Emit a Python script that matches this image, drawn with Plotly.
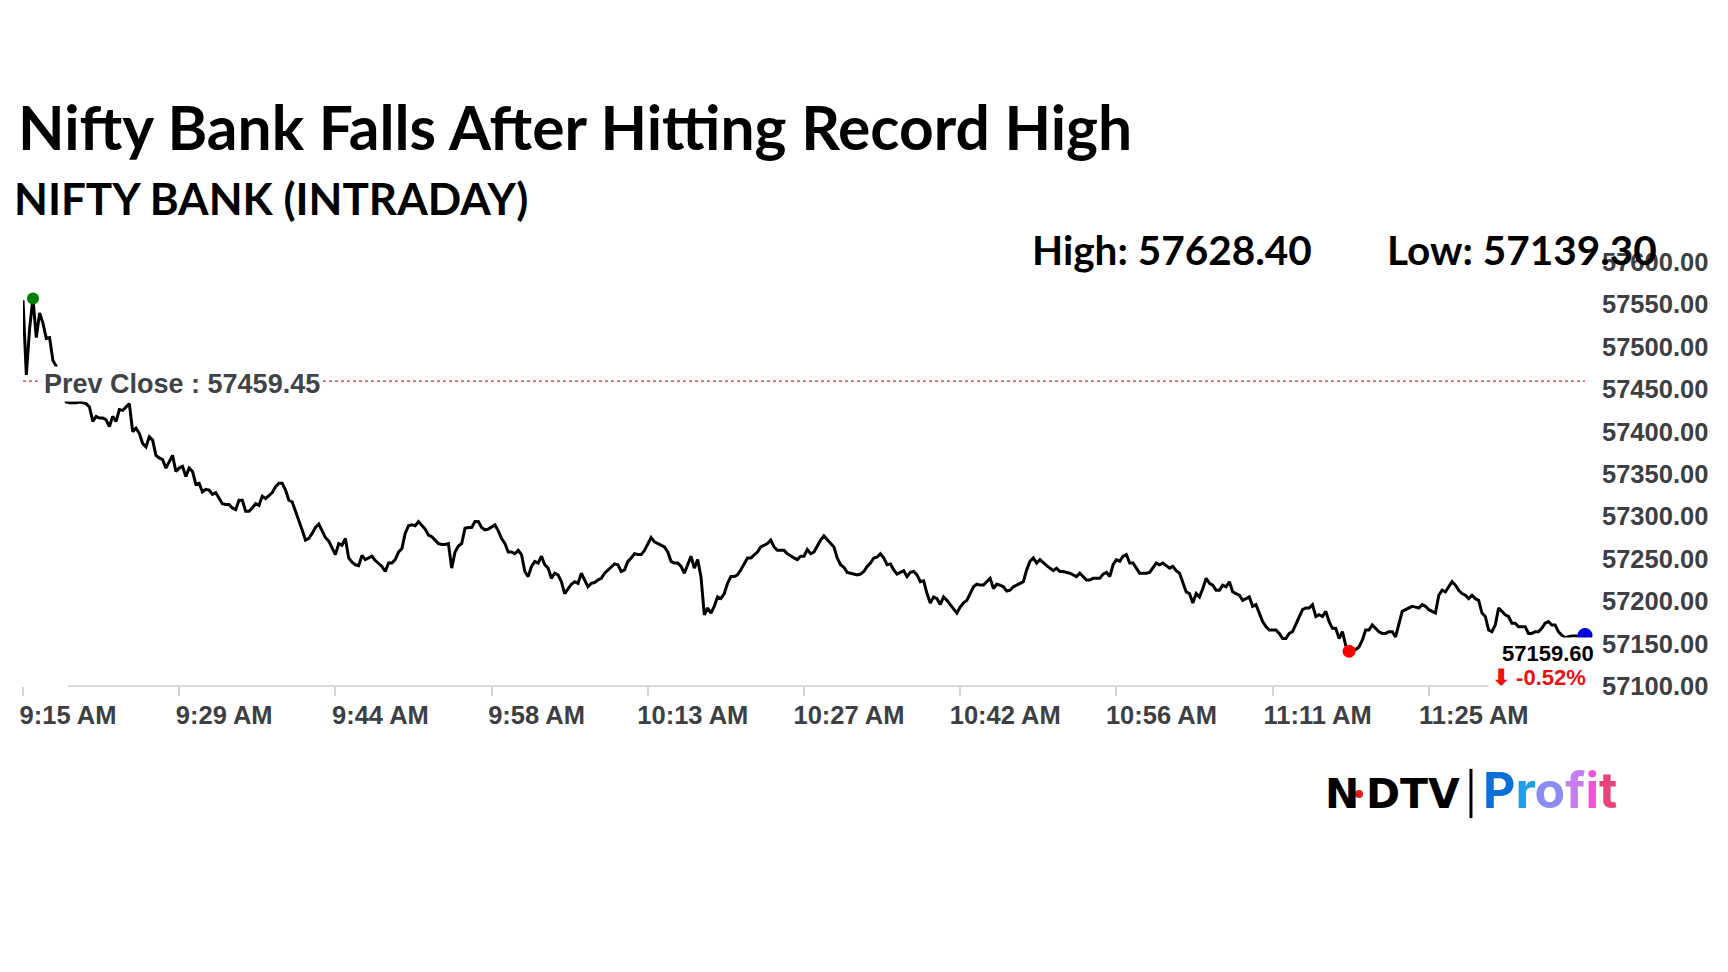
import numpy as np
import pandas as pd
import plotly.graph_objects as go

# ---------------- data ----------------
TITLE = "Nifty Bank Falls After Hitting Record High"
SUBTITLE = "NIFTY BANK (INTRADAY)"
HIGH_TEXT = "High: 57628.40"
LOW_TEXT = "Low: 57139.30"
PREV_CLOSE = 57459.45
LAST_PRICE = 57159.60
CHANGE_PCT = -0.52

START_TIME = "2025-07-01 09:15:00"
SAMPLE_STEP = "18450ms"          # sampling interval of the intraday series

PRICES_0915 = [
    57555, 57467, 57522, 57557, 57511, 57540, 57528, 57510, 57511, 57484,
    57477, 57463, 57449, 57435, 57434, 57434, 57434, 57435, 57434, 57433,
    57429, 57412, 57418, 57416, 57416, 57414, 57406, 57418, 57412, 57426,
    57425, 57429, 57433, 57400, 57404, 57398, 57386, 57382, 57394, 57390,
    57372, 57369, 57367, 57357, 57365, 57372, 57353, 57357, 57359, 57347,
    57357, 57353, 57338, 57339, 57329, 57332, 57331, 57326, 57328, 57321,
    57315, 57314, 57314, 57310, 57308, 57319, 57319, 57306, 57306, 57310,
    57315, 57313, 57324, 57321, 57325, 57328, 57335, 57339, 57339, 57331,
    57319, 57317, 57306, 57296, 57284,
]
PRICES_0941 = [
    57272, 57274, 57280, 57287, 57291, 57282, 57275, 57271, 57262, 57255,
    57268, 57266, 57274, 57251, 57246, 57243, 57242, 57254, 57249, 57251,
    57253, 57248, 57245, 57241, 57235, 57245, 57245, 57249, 57258, 57262,
    57280, 57289, 57290, 57289, 57294, 57290, 57285, 57278, 57276, 57272,
    57268, 57267, 57267, 57268, 57239, 57258, 57265, 57268, 57286, 57287,
    57287, 57294, 57294, 57287, 57284, 57285, 57288, 57290, 57283, 57274,
    57268, 57258, 57258, 57256, 57260, 57255, 57235, 57229, 57241, 57247,
    57245, 57253, 57243, 57239, 57227, 57233, 57231, 57223, 57209, 57215,
    57220, 57223, 57221, 57233,
]
PRICES_1007 = [
    57225, 57217, 57221, 57222, 57225, 57227, 57233, 57237, 57241, 57244,
    57243, 57235, 57237, 57247, 57251, 57256, 57255, 57255, 57260, 57268,
    57275, 57270, 57268, 57266, 57264, 57258, 57247, 57245, 57245, 57241,
    57233, 57243, 57253, 57239, 57249, 57229, 57184, 57192, 57186, 57194,
    57205, 57203, 57209, 57221, 57229, 57229, 57231, 57237, 57245, 57251,
    57251, 57255, 57258, 57264, 57266, 57268, 57272, 57264, 57260, 57260,
    57260, 57256, 57253, 57251, 57249, 57253, 57253, 57261, 57256, 57258,
    57265, 57272, 57277, 57273, 57268, 57264, 57251, 57243, 57240, 57234,
    57233, 57232, 57231, 57232,
]
PRICES_1033 = [
    57235, 57241, 57245, 57251, 57252, 57256, 57251, 57243, 57244, 57237,
    57232, 57234, 57236, 57229, 57234, 57235, 57231, 57223, 57224, 57209,
    57198, 57205, 57203, 57196, 57205, 57201, 57196, 57192, 57186, 57193,
    57198, 57201, 57209, 57217, 57220, 57219, 57219, 57223, 57227, 57215,
    57220, 57219, 57217, 57212, 57213, 57217, 57219, 57221, 57223, 57237,
    57247, 57251, 57245, 57249, 57245, 57242, 57239, 57236, 57239, 57235,
    57235, 57234, 57233, 57231, 57229, 57233, 57229, 57225, 57225, 57227,
    57227, 57227, 57232, 57234, 57229, 57243, 57249, 57247, 57253, 57255,
    57245, 57245, 57239, 57233,
]
PRICES_1059 = [
    57233, 57233, 57234, 57239, 57245, 57243, 57245, 57242, 57239, 57241,
    57236, 57233, 57223, 57211, 57209, 57198, 57209, 57205, 57215, 57227,
    57221, 57219, 57213, 57213, 57219, 57217, 57223, 57211, 57209, 57207,
    57201, 57203, 57205, 57194, 57196, 57186, 57176, 57170, 57166, 57166,
    57166, 57162, 57156, 57156, 57162, 57164, 57172, 57180, 57190, 57192,
    57192, 57196, 57182, 57184, 57182, 57188, 57176, 57168, 57168, 57156,
    57164, 57148, 57141, 57144, 57143, 57146, 57154, 57166, 57166, 57172,
    57168, 57164, 57162, 57162, 57164, 57164, 57158, 57174, 57188, 57190,
    57192, 57194, 57193, 57192,
]
PRICES_1124 = [
    57196, 57194, 57190, 57188, 57186, 57207, 57213, 57211, 57217, 57223,
    57219, 57213, 57209, 57207, 57203, 57207, 57203, 57201, 57186, 57182,
    57166, 57164, 57172, 57192, 57188, 57184, 57182, 57174, 57174, 57170,
    57170, 57170, 57162, 57162, 57164, 57164, 57168, 57174, 57176, 57172,
    57172, 57164, 57160, 57157, 57158, 57159, 57159, 57159, 57160, 57159.6,
]

TICK_LABELS = ["9:15 AM", "9:29 AM", "9:44 AM", "9:58 AM", "10:13 AM",
               "10:27 AM", "10:42 AM", "10:56 AM", "11:11 AM", "11:25 AM"]
TICK_EVERY = 47                   # samples between x tick labels
Y_TICKS = [57100, 57150, 57200, 57250, 57300, 57350, 57400, 57450, 57500, 57550, 57600]

# ---------------- build ----------------
prices = np.array(PRICES_0915 + PRICES_0941 + PRICES_1007 + PRICES_1033 + PRICES_1059 + PRICES_1124, dtype=float)
times = pd.date_range(START_TIME, periods=len(prices), freq=SAMPLE_STEP)
tick_vals = list(times[::TICK_EVERY][:len(TICK_LABELS)])

hi = int(np.argmax(prices))
lo = int(np.argmin(prices))

AXIS_FONT = dict(family="Liberation Sans, Arial, sans-serif", size=25.5, color="#3c4043", weight="bold")
HEAD_FONT = "Lato, Open Sans, sans-serif"
LABEL_FAMILY = "Liberation Sans, Arial, sans-serif"
LOGO_FONT = dict(family="DejaVu Sans, sans-serif", size=41, color="black", weight="bold")

fig = go.Figure()
fig.add_trace(go.Scatter(x=times, y=prices, mode="lines",
                         line=dict(color="black", width=3), hoverinfo="skip"))
fig.add_trace(go.Scatter(x=[times[hi]], y=[prices[hi]], mode="markers", cliponaxis=False,
                         marker=dict(color="#008000", size=12)))
fig.add_trace(go.Scatter(x=[times[lo]], y=[prices[lo]], mode="markers", cliponaxis=False,
                         marker=dict(color="#ff0000", size=13)))
fig.add_trace(go.Scatter(x=[times[-1]], y=[prices[-1]], mode="markers", cliponaxis=False,
                         marker=dict(color="#0000dd", size=15)))

fig.update_layout(
    width=1712, height=950, autosize=False,
    margin=dict(l=12, r=133, t=242, b=272),
    paper_bgcolor="white", plot_bgcolor="white",
    showlegend=False,
    xaxis=dict(range=[times[0], times[-1]], tickmode="array", tickvals=tick_vals,
               ticktext=TICK_LABELS, showgrid=False, zeroline=False, showline=False,
               ticks="outside", ticklen=9, tickwidth=1.5, tickcolor="#d4d4d4",
               ticklabelshift=45, ticklabelstandoff=-3, tickfont=AXIS_FONT),
    yaxis=dict(range=[57100, 57614.2], side="right", tickmode="array", tickvals=Y_TICKS,
               tickformat=".2f", showgrid=False, zeroline=False, showline=False,
               ticks="", tickfont=AXIS_FONT, ticklabelstandoff=16),
)

shapes = [
    dict(type="line", xref="x", yref="y", x0=times[0], x1=times[-1], y0=PREV_CLOSE, y1=PREV_CLOSE,
         line=dict(color="#d9251c", width=1.2, dash="dot"), layer="below"),
    dict(type="line", xref="paper", yref="paper", x0=0.029, x1=1.0, y0=0, y1=0,
         line=dict(color="#dadada", width=2), layer="below"),
    # logo separator bar and red dot
    dict(type="line", xref="paper", yref="paper", x0=0.927, x1=0.927, y0=-0.190, y1=-0.303,
         line=dict(color="black", width=3)),
    dict(type="circle", xref="paper", yref="paper", x0=0.8528, x1=0.8579, y0=-0.2569, y1=-0.2385,
         fillcolor="#e41b1b", line=dict(width=0)),
]
fig.update_layout(shapes=shapes)

chg = f"{CHANGE_PCT:.2f}%"
annotations = [
    dict(text=TITLE, xref="paper", yref="paper", x=-0.0048, y=1.2844, xanchor="left", yanchor="middle",
         showarrow=False, font=dict(family=HEAD_FONT, size=60.5, color="black", weight="bold")),
    dict(text=SUBTITLE, xref="paper", yref="paper", x=-0.0068, y=1.1193, xanchor="left", yanchor="middle",
         showarrow=False, font=dict(family=HEAD_FONT, size=44, color="black", weight="bold")),
    dict(text=HIGH_TEXT, xref="paper", yref="paper", x=0.6446, y=1.002, xanchor="left", yanchor="middle",
         showarrow=False, font=dict(family=HEAD_FONT, size=40.5, color="black", weight="bold")),
    dict(text=LOW_TEXT, xref="paper", yref="paper", x=0.8722, y=1.002, xanchor="left", yanchor="middle",
         showarrow=False, font=dict(family=HEAD_FONT, size=40.5, color="black", weight="bold")),
    dict(text=f"Prev Close : {PREV_CLOSE:.2f}", xref="paper", yref="y", x=0.0114, y=PREV_CLOSE,
         yshift=-3, xanchor="left", yanchor="middle", showarrow=False, bgcolor="white", borderpad=2,
         font=dict(family=LABEL_FAMILY, size=27, color="#404448", weight="bold")),
    dict(text=f"{LAST_PRICE:.2f}", xref="paper", yref="paper", x=0.9761, y=0.0745,
         xanchor="center", yanchor="middle", showarrow=False, bgcolor="white", borderpad=3,
         font=dict(family=LABEL_FAMILY, size=22, color="black", weight="bold")),
    dict(text=f"⬇ {chg}", xref="paper", yref="paper", x=0.9708, y=0.0188,
         xanchor="center", yanchor="middle", showarrow=False, bgcolor="white", borderpad=3,
         font=dict(family=LABEL_FAMILY, size=22, color="#ee1111", weight="bold")),
    dict(text="N", xref="paper", yref="paper", x=0.8322, y=-0.2477, xanchor="left", yanchor="middle",
         showarrow=False, font=LOGO_FONT),
    dict(text="DTV", xref="paper", yref="paper", x=0.8586, y=-0.2477, xanchor="left", yanchor="middle",
         showarrow=False, font=LOGO_FONT),
    dict(text="<span style='color:#0b6fd8'>P</span><span style='color:#1f9fee'>r</span>"
              "<span style='color:#8a8cf3'>o</span><span style='color:#c77cf1'>f</span>"
              "<span style='color:#f252dc'>i</span><span style='color:#e8447c'>t</span>",
         xref="paper", yref="paper", x=0.9336, y=-0.2385, xanchor="left", yanchor="middle",
         showarrow=False, font=dict(family="Inter, Roboto, sans-serif", size=50, weight="bold")),
]
fig.update_layout(annotations=annotations)

fig.write_html("out.html")
